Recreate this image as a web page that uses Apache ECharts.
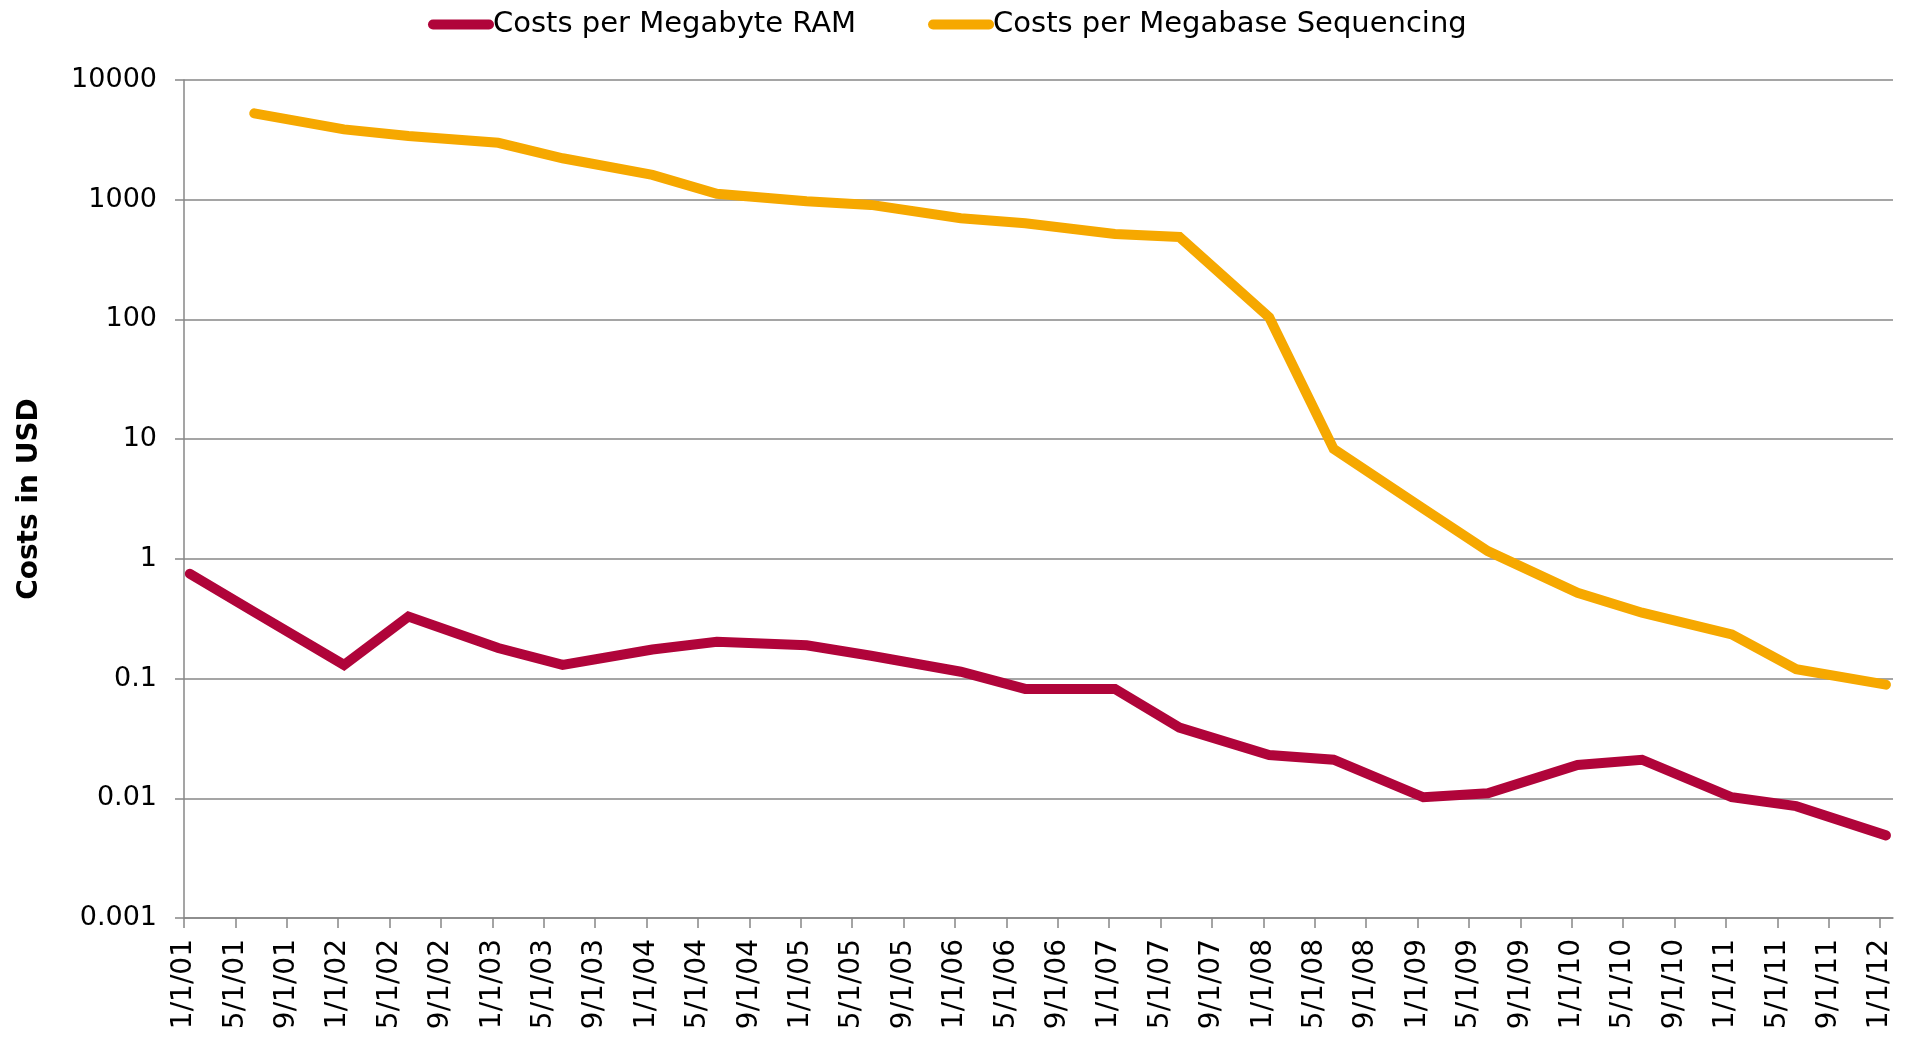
<!DOCTYPE html>
<html>
<head>
<meta charset="utf-8">
<script src="https://cdn.jsdelivr.net/npm/echarts@6/dist/echarts.min.js"></script>
<style>
html,body{margin:0;padding:0;background:#fff;}
#chart{width:1914px;height:1041px;}
</style>
</head>
<body>
<div id="chart"></div>
<script>
// ---- data ----
const xTickLabels = ['1/1/01','5/1/01','9/1/01','1/1/02','5/1/02','9/1/02','1/1/03','5/1/03','9/1/03',
  '1/1/04','5/1/04','9/1/04','1/1/05','5/1/05','9/1/05','1/1/06','5/1/06','9/1/06','1/1/07','5/1/07',
  '9/1/07','1/1/08','5/1/08','9/1/08','1/1/09','5/1/09','9/1/09','1/1/10','5/1/10','9/1/10','1/1/11',
  '5/1/11','9/1/11','1/1/12'];
const yTickLabels = ['0.001','0.01','0.1','1','10','100','1000','10000'];

const sampleDates = ['2001-01-15','2001-06-15','2002-01-15','2002-06-15','2003-01-15','2003-06-15',
  '2004-01-15','2004-06-15','2005-01-15','2005-06-15','2006-01-15','2006-06-15','2007-01-15','2007-06-15',
  '2008-01-15','2008-06-15','2009-01-15','2009-06-15','2010-01-15','2010-06-15','2011-01-15','2011-06-15',
  '2012-01-15'];
const ramCost = [0.75,0.36,0.13,0.33,0.18,0.13,0.175,0.203,0.19,0.155,0.114,0.082,0.082,0.039,
  0.023,0.021,0.0102,0.011,0.019,0.021,0.0102,0.0086,0.0049];
const seqCost = [null,5270,3870,3400,2990,2220,1610,1120,970,905,700,635,518,489,
  104,8.3,2.63,1.16,0.52,0.355,0.234,0.12,0.089];

const seriesNames = ['Costs per Megabyte RAM','Costs per Megabase Sequencing'];
const seriesColors = ['#B0043A','#F6A800'];

// ---- helpers ----
function toMonths(s){
  const [y,m,d] = s.split('-').map(Number);
  const dim = new Date(y, m, 0).getDate();
  return (y-2001)*12 + (m-1) + (d-1)/dim;
}
function labelToMonths(l){
  const [m,d,yy] = l.split('/').map(Number);
  return (yy-1)*12 + (m-1);
}
const tickPos = xTickLabels.map(labelToMonths);
const labelByMonth = {};
xTickLabels.forEach((l,i)=>{ labelByMonth[tickPos[i]] = l; });

function pairs(vals){
  const out = [];
  vals.forEach((v,i)=>{ if(v!==null) out.push([toMonths(sampleDates[i]), v]); });
  return out;
}

const gray = '#878787';
const font = 'DejaVu Sans';

const chart = echarts.init(document.getElementById('chart'), null, {renderer:'canvas'});
chart.setOption({
  animation:false,
  backgroundColor:'#fff',
  legend:{
    top:5, left:423,
    itemWidth:66, itemHeight:10, itemGap:72,
    icon:'path://M5,0H61A5,5,0,0,1,61,10H5A5,5,0,0,1,5,0Z',
    textStyle:{fontSize:29, fontFamily:font, color:'#000', padding:[0,0,0,-6]},
    data:seriesNames
  },
  grid:{left:184, right:21, top:80, bottom:123},
  xAxis:{
    type:'value', min:0, max:133,
    splitLine:{show:false},
    axisLine:{show:true, lineStyle:{color:gray, width:1.5}},
    axisTick:{show:true, customValues:tickPos, length:10, lineStyle:{color:gray, width:1.5}},
    axisLabel:{
      customValues:tickPos, rotate:90, margin:21,
      fontSize:28, fontFamily:font, color:'#000',
      formatter:(v)=> labelByMonth[Math.round(v)] || ''
    }
  },
  yAxis:{
    type:'log', logBase:10, min:0.001, max:10000,
    name:'Costs in USD', nameLocation:'middle', nameGap:140,
    nameTextStyle:{fontSize:28, fontWeight:'bold', fontFamily:font, color:'#000'},
    axisLine:{show:true, lineStyle:{color:gray, width:1.5}},
    axisTick:{show:true, length:9, lineStyle:{color:gray, width:1.5}},
    axisLabel:{
      margin:27, fontSize:27, fontFamily:font, color:'#000',
      formatter:(v)=> yTickLabels[Math.round(Math.log10(v))+3]
    },
    splitLine:{show:true, lineStyle:{color:gray, width:1.5}}
  },
  series:[
    {
      name:seriesNames[0], type:'line', data:pairs(ramCost),
      symbol:'none', showSymbol:false,
      lineStyle:{width:10, color:seriesColors[0], cap:'round', join:'miter'},
      itemStyle:{color:seriesColors[0]}
    },
    {
      name:seriesNames[1], type:'line', data:pairs(seqCost),
      symbol:'none', showSymbol:false,
      lineStyle:{width:10, color:seriesColors[1], cap:'round', join:'miter'},
      itemStyle:{color:seriesColors[1]}
    }
  ]
});
</script>
</body>
</html>
